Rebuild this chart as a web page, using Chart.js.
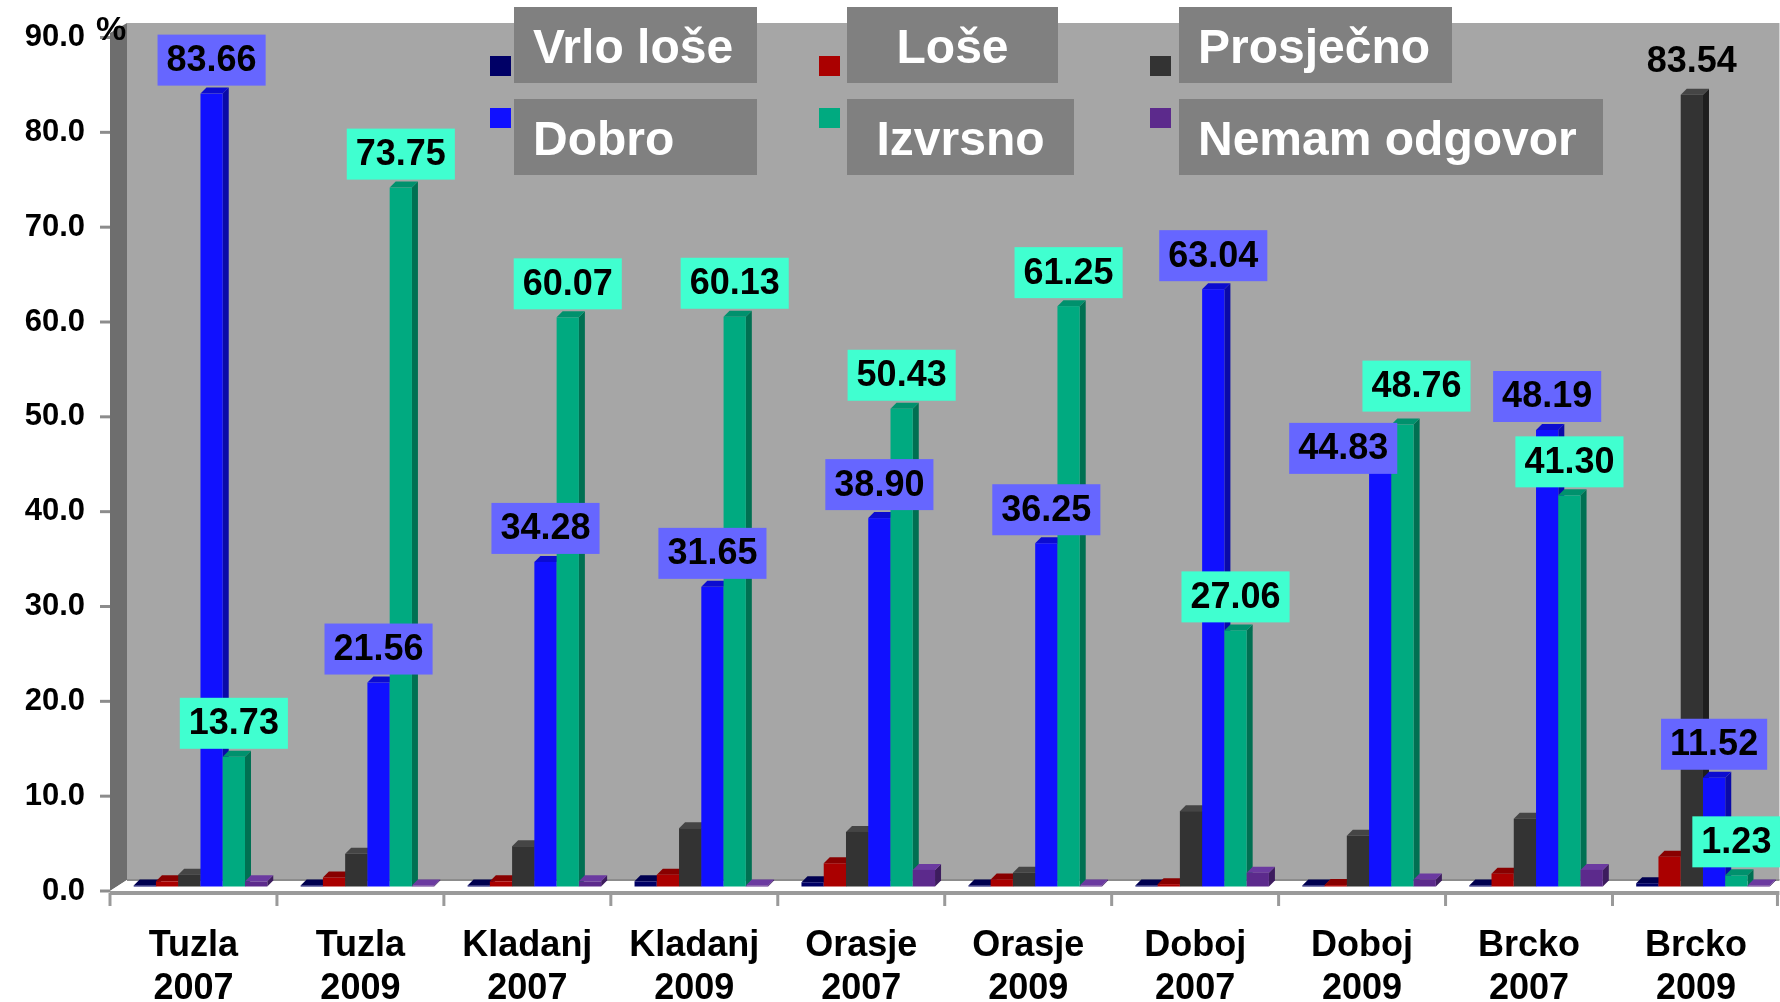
<!DOCTYPE html>
<html><head><meta charset="utf-8">
<script src="https://cdn.jsdelivr.net/npm/chart.js@4/dist/chart.umd.min.js"></script>
<style>html,body{margin:0;padding:0;background:#fff;overflow:hidden}</style>
</head><body>
<canvas id="c" width="1780" height="1002"></canvas>
<script>
// ---- data ----
const categories = [['Tuzla','2007'],['Tuzla','2009'],['Kladanj','2007'],['Kladanj','2009'],['Orasje','2007'],['Orasje','2009'],['Doboj','2007'],['Doboj','2009'],['Brcko','2007'],['Brcko','2009']];
const seriesNames = ['Vrlo loše','Loše','Prosječno','Dobro','Izvrsno','Nemam odgovor'];
const vrloLose  = [0.1, 0.1, 0.1, 0.6, 0.5, 0.1, 0.1, 0.1, 0.1, 0.4];
const lose      = [0.6, 1.0, 0.6, 1.3, 2.5, 0.8, 0.3, 0.2, 1.4, 3.2];
const prosjecno = [1.3, 3.5, 4.3, 6.2, 5.8, 1.5, 8.0, 5.4, 7.2, 83.54];
const dobro     = [83.66, 21.56, 34.28, 31.65, 38.90, 36.25, 63.04, 44.83, 48.19, 11.52];
const izvrsno   = [13.73, 73.75, 60.07, 60.13, 50.43, 61.25, 27.06, 48.76, 41.30, 1.23];
const nemam     = [0.6, 0.1, 0.6, 0.1, 1.8, 0.1, 1.5, 0.8, 1.8, 0.1];
const yTicks = [0, 10, 20, 30, 40, 50, 60, 70, 80, 90];
// which points carry a value label
const prosjecnoLabelShown = [false,false,false,false,false,false,false,false,false,true];
const dobroLabelShown = [true,true,true,true,true,true,true,true,true,true];
const izvrsnoLabelShown = [true,true,true,true,true,true,true,true,true,true];

// ---- styles / layout ----
const FONT = "'Liberation Sans', Arial, sans-serif";
const colors = ['#000066','#aa0000','#333333','#1010ff','#00aa80','#5c2a8c'];
const sideColors = ['#00003a','#700000','#1e1e1e','#0a0aa8','#007052','#3d1c5e'];
const topColors = ['#000050','#880000','#454545','#0c0cd0','#00916d','#6b3aa0'];
const labelBg = [null, null, null, '#6666ff', '#40ffd0', null];
const BAR = {dx: 7, dy: 4, cap: 6};
const WALL = {dx: 17, dy: 11, top: 23};
// manual nudges of individual value labels (series index, category index) -> [dx, dy] px
const labelNudge = {'3,7': [-37, 20], '4,7': [14, -5]};

const legendLayout = [
  {x: 514, y: 7,  w: 243, h: 76, sx: 490,  sy: 56,  align: 'left'},
  {x: 847, y: 7,  w: 211, h: 76, sx: 819,  sy: 56,  align: 'center'},
  {x: 1179,y: 7,  w: 273, h: 76, sx: 1150, sy: 56,  align: 'left'},
  {x: 514, y: 99, w: 243, h: 76, sx: 490,  sy: 108, align: 'left'},
  {x: 847, y: 99, w: 227, h: 76, sx: 819,  sy: 108, align: 'center'},
  {x: 1179,y: 99, w: 424, h: 76, sx: 1150, sy: 108, align: 'left'}
];

const seriesData = [vrloLose, lose, prosjecno, dobro, izvrsno, nemam];
const labelFlags = [null, null, prosjecnoLabelShown, dobroLabelShown, izvrsnoLabelShown, null];

function poly(ctx, pts, fill){
  ctx.beginPath(); ctx.moveTo(pts[0][0], pts[0][1]);
  for (let k=1;k<pts.length;k++) ctx.lineTo(pts[k][0], pts[k][1]);
  ctx.closePath(); ctx.fillStyle = fill; ctx.fill();
}

const threeD = {
  id: 'threeD',
  beforeDraw(chart){
    const ctx = chart.ctx, ca = chart.chartArea;
    ctx.save();
    ctx.fillStyle = '#a6a6a6';
    ctx.fillRect(ca.left + WALL.dx, WALL.top, ca.right - ca.left - WALL.dx, ca.bottom - WALL.dy - WALL.top);
    poly(ctx, [[ca.left, WALL.top + 10],[ca.left + WALL.dx, WALL.top],[ca.left + WALL.dx, ca.bottom - WALL.dy],[ca.left, ca.bottom]], '#6e6e6e');
    poly(ctx, [[ca.left, ca.bottom],[ca.left + WALL.dx, ca.bottom - WALL.dy],[ca.right, ca.bottom - WALL.dy],[ca.right, ca.bottom]], '#ffffff');
    ctx.strokeStyle = '#8c8c8c'; ctx.lineWidth = 2;
    ctx.beginPath(); ctx.moveTo(ca.left + WALL.dx, ca.bottom - WALL.dy); ctx.lineTo(ca.right, ca.bottom - WALL.dy); ctx.stroke();
    ctx.restore();
  },
  beforeDatasetsDraw(chart){
    const ctx = chart.ctx;
    const n = chart.data.labels.length;
    ctx.save();
    for (let i = 0; i < n; i++){
      chart.data.datasets.forEach((ds, di) => {
        const el = chart.getDatasetMeta(di).data[i];
        if (!el) return;
        const w = el.width;
        const left = el.x - w/2 + BAR.dx, right = left + w;
        const bottom = el.base - BAR.dy;
        let top = el.y - BAR.dy;
        if (bottom - top < 1) top = bottom - 1;
        const c = BAR.cap;
        poly(ctx, [[right, top],[right + c, top - c],[right + c, bottom - c],[right, bottom]], sideColors[di]);
        poly(ctx, [[left, top],[left + c, top - c],[right + c, top - c],[right, top]], topColors[di]);
        ctx.fillStyle = colors[di];
        ctx.fillRect(left, top, w, bottom - top);
      });
    }
    ctx.restore();
    return false;
  },
  afterDraw(chart){
    const ctx = chart.ctx, ca = chart.chartArea, ys = chart.scales.y;
    ctx.save();
    // front axis line + category ticks
    ctx.strokeStyle = '#9a9a9a'; ctx.lineWidth = 4;
    ctx.beginPath(); ctx.moveTo(ca.left, ca.bottom + 2); ctx.lineTo(ca.right, ca.bottom + 2); ctx.stroke();
    const n = chart.data.labels.length, cw = (ca.right - ca.left) / n;
    ctx.lineWidth = 3;
    for (let i = 0; i <= n; i++){
      const x = Math.min(ca.left + i*cw, ca.right - 2);
      ctx.beginPath(); ctx.moveTo(x, ca.bottom + 2); ctx.lineTo(x, ca.bottom + 15); ctx.stroke();
    }
    // y tick marks
    ctx.strokeStyle = '#8c8c8c'; ctx.lineWidth = 3;
    yTicks.forEach(v => {
      const y = ys.getPixelForValue(v);
      ctx.beginPath(); ctx.moveTo(ca.left - 10, y); ctx.lineTo(ca.left, y); ctx.stroke();
    });
    // percent sign
    ctx.fillStyle = '#000'; ctx.font = 'bold 34px ' + FONT;
    ctx.textAlign = 'left'; ctx.textBaseline = 'middle';
    ctx.fillText('%', 96, 31);

    // legend
    chart.data.datasets.forEach((ds, di) => {
      const L = legendLayout[di];
      ctx.fillStyle = colors[di];
      ctx.fillRect(L.sx, L.sy, 21, 20);
      ctx.fillStyle = '#808080';
      ctx.fillRect(L.x, L.y, L.w, L.h);
      ctx.fillStyle = '#ffffff'; ctx.font = 'bold 48px ' + FONT;
      ctx.textBaseline = 'middle';
      if (L.align === 'left'){ ctx.textAlign = 'left'; ctx.fillText(ds.label, L.x + 19, L.y + L.h/2 + 5); }
      else { ctx.textAlign = 'center'; ctx.fillText(ds.label, L.x + L.w/2, L.y + L.h/2 + 5); }
    });

    // value labels
    ctx.font = 'bold 36px ' + FONT;
    ctx.textAlign = 'center'; ctx.textBaseline = 'middle';
    chart.data.datasets.forEach((ds, di) => {
      const flags = labelFlags[di];
      if (!flags) return;
      chart.getDatasetMeta(di).data.forEach((el, i) => {
        if (!flags[i]) return;
        const nudge = labelNudge[di + ',' + i] || [0, 0];
        const txt = ds.data[i].toFixed(2);
        const cx = el.x + BAR.dx + nudge[0];
        const bottomY = el.y - BAR.dy - BAR.cap - 2 + nudge[1];
        const tw = ctx.measureText(txt).width;
        const h = 51;
        if (labelBg[di]){
          ctx.fillStyle = labelBg[di];
          ctx.fillRect(cx - tw/2 - 9, bottomY - h, tw + 18, h);
        }
        ctx.fillStyle = '#000';
        ctx.fillText(txt, cx, bottomY - h/2 + 1);
      });
    });
    ctx.restore();
  }
};

new Chart(document.getElementById('c'), {
  type: 'bar',
  data: {
    labels: categories,
    datasets: seriesNames.map((name, di) => ({
      label: name,
      data: seriesData[di],
      backgroundColor: colors[di],
      borderWidth: 0,
      categoryPercentage: 0.8,
      barPercentage: 1.0
    }))
  },
  options: {
    responsive: false,
    animation: false,
    layout: {autoPadding: false, padding: {top: 37.5, left: 0, right: 0, bottom: 0}},
    plugins: {legend: {display: false}, tooltip: {enabled: false}},
    scales: {
      x: {
        grid: {display: false, drawTicks: false},
        border: {display: false},
        ticks: {color: '#000', font: {family: FONT, size: 36, weight: 'bold', lineHeight: 1.2}, padding: 33, maxRotation: 0, autoSkip: false},
        afterFit(s){ s.height = 111; }
      },
      y: {
        min: 0, max: 90,
        grid: {color: 'rgba(0,0,0,0)', drawOnChartArea: false, drawTicks: true, tickLength: 10},
        border: {display: false},
        ticks: {color: '#000', font: {family: FONT, size: 31, weight: 'bold'}, padding: 15, callback: v => Number(v).toFixed(1)},
        afterBuildTicks(s){ s.ticks = yTicks.map(v => ({value: v})); },
        afterFit(s){ s.width = 110; }
      }
    }
  },
  plugins: [threeD]
});
</script>
</body></html>
